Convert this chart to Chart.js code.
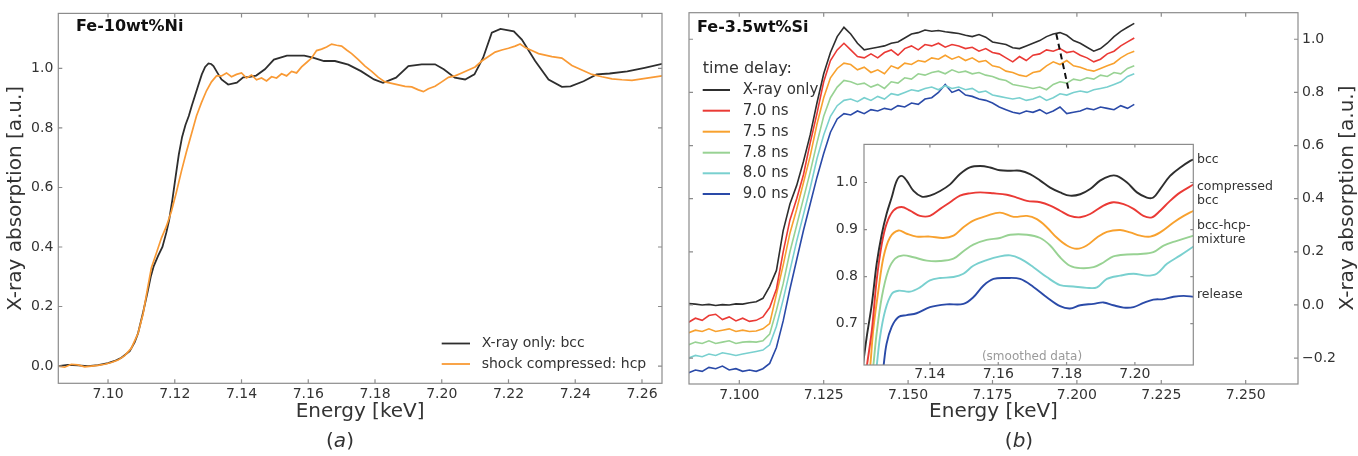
<!DOCTYPE html>
<html><head><meta charset="utf-8">
<script src="https://cdn.jsdelivr.net/npm/chart.js@4.4.1/dist/chart.umd.min.js"></script>
<style>
html,body{margin:0;padding:0;background:#fff;}
#wrap{position:relative;width:1358px;height:456px;overflow:hidden;background:#fff;}
canvas{position:absolute;}
</style></head><body>
<div id="wrap">
<canvas id="ca" width="680" height="456" style="left:0;top:0;width:680px;height:456px"></canvas>
<canvas id="cb" width="678" height="456" style="left:680px;top:0;width:678px;height:456px"></canvas>
<canvas id="ci" width="500" height="260" style="left:800px;top:130px;width:500px;height:260px"></canvas>
</div>
<script>
// ---------- Panel (a): Fe-10wt%Ni ----------
const aXTicks = [7.10,7.12,7.14,7.16,7.18,7.20,7.22,7.24,7.26];
const aYTicks = [0.0,0.2,0.4,0.6,0.8,1.0];
const aBlackE = [7.085,7.088,7.091,7.094,7.097,7.100,7.102,7.104,7.1065,7.108,7.109,7.1105,7.1118,7.1128,7.1137,7.115,7.1163,7.1175,7.1183,7.1193,7.1203,7.1212,7.1222,7.1232,7.1242,7.1251,7.1261,7.1271,7.1281,7.1291,7.1301,7.1309,7.1316,7.1328,7.134,7.136,7.1386,7.1405,7.1425,7.1444,7.147,7.1497,7.1536,7.1588,7.1614,7.1647,7.168,7.172,7.1758,7.1797,7.1824,7.1863,7.190,7.194,7.198,7.2006,7.2039,7.207,7.2098,7.2124,7.215,7.2176,7.2216,7.224,7.228,7.232,7.236,7.2386,7.2425,7.2464,7.2503,7.2556,7.2608,7.2667];
const aBlackA = [0.000,0.004,0.002,0.000,0.003,0.010,0.017,0.028,0.050,0.080,0.110,0.180,0.246,0.300,0.336,0.370,0.400,0.450,0.490,0.560,0.640,0.710,0.770,0.810,0.840,0.875,0.910,0.945,0.980,1.005,1.017,1.015,1.008,0.985,0.963,0.946,0.952,0.970,0.972,0.976,0.997,1.030,1.043,1.043,1.036,1.025,1.025,1.013,0.991,0.963,0.952,0.969,1.008,1.014,1.014,0.997,0.969,0.963,0.980,1.036,1.120,1.133,1.125,1.097,1.025,0.963,0.938,0.940,0.957,0.980,0.983,0.990,1.002,1.017];
const aOrangeE = [7.085,7.087,7.089,7.091,7.093,7.095,7.097,7.099,7.101,7.103,7.105,7.107,7.109,7.1105,7.112,7.113,7.1145,7.116,7.1175,7.119,7.1205,7.122,7.1235,7.125,7.1265,7.128,7.1295,7.131,7.1325,7.134,7.1355,7.137,7.1385,7.140,7.1415,7.143,7.1445,7.146,7.1475,7.149,7.1505,7.152,7.1535,7.155,7.1565,7.158,7.1595,7.161,7.1625,7.164,7.1655,7.167,7.1685,7.170,7.1715,7.173,7.175,7.177,7.179,7.181,7.183,7.185,7.187,7.189,7.191,7.193,7.1945,7.196,7.198,7.200,7.202,7.204,7.206,7.208,7.210,7.212,7.214,7.216,7.218,7.220,7.222,7.2235,7.225,7.227,7.229,7.231,7.233,7.236,7.239,7.242,7.245,7.248,7.251,7.254,7.257,7.260,7.263,7.266];
const aOrangeA = [0.000,-0.004,0.006,0.004,-0.003,0.000,0.002,0.006,0.012,0.020,0.035,0.060,0.110,0.175,0.270,0.330,0.380,0.430,0.470,0.520,0.585,0.655,0.720,0.780,0.840,0.885,0.925,0.955,0.975,0.975,0.985,0.972,0.980,0.985,0.968,0.978,0.962,0.968,0.958,0.972,0.968,0.982,0.975,0.990,0.985,1.005,1.020,1.035,1.060,1.065,1.072,1.082,1.078,1.075,1.062,1.050,1.030,1.008,0.990,0.970,0.955,0.950,0.945,0.940,0.938,0.928,0.922,0.932,0.940,0.955,0.970,0.975,0.985,0.995,1.005,1.025,1.040,1.055,1.062,1.068,1.075,1.082,1.070,1.060,1.050,1.045,1.040,1.035,1.010,0.995,0.980,0.972,0.965,0.962,0.960,0.965,0.970,0.975];

// ---------- Panel (b): Fe-3.5wt%Si ----------
const bXTicks = [7.100,7.125,7.150,7.175,7.200,7.225,7.250];
const bYTicks = [-0.2,0.0,0.2,0.4,0.6,0.8,1.0];
const bLabels = ['X-ray only','7.0 ns','7.5 ns','7.8 ns','8.0 ns','9.0 ns'];
const bE = [7.085,7.087,7.089,7.091,7.093,7.095,7.097,7.099,7.101,7.103,7.105,7.107,7.109,7.111,7.113,7.115,7.117,7.119,7.121,7.123,7.125,7.127,7.129,7.131,7.133,7.135,7.137,7.139,7.141,7.143,7.145,7.147,7.149,7.151,7.153,7.155,7.157,7.159,7.161,7.163,7.165,7.167,7.169,7.171,7.173,7.175,7.177,7.179,7.181,7.183,7.185,7.187,7.189,7.191,7.193,7.195,7.197,7.199,7.201,7.203,7.205,7.207,7.209,7.211,7.213,7.215,7.217];
const bXray = [0.005,0.003,0.000,0.002,-0.002,0.001,0.000,0.004,0.003,0.008,0.012,0.025,0.070,0.130,0.280,0.380,0.450,0.540,0.640,0.760,0.870,0.950,1.010,1.045,1.020,0.985,0.960,0.965,0.970,0.975,0.985,0.990,1.005,1.020,1.025,1.035,1.030,1.033,1.028,1.025,1.022,1.015,1.010,1.018,1.008,0.990,0.985,0.980,0.968,0.965,0.975,0.985,0.995,1.010,1.020,1.025,1.015,0.995,0.985,0.970,0.955,0.965,0.985,1.010,1.030,1.045,1.060];
const b70 = [-0.065,-0.050,-0.058,-0.040,-0.035,-0.055,-0.045,-0.060,-0.050,-0.062,-0.058,-0.045,-0.010,0.060,0.200,0.320,0.400,0.490,0.610,0.720,0.840,0.920,0.960,0.985,0.960,0.935,0.930,0.945,0.930,0.950,0.960,0.940,0.965,0.975,0.960,0.980,0.975,0.985,0.970,0.980,0.975,0.965,0.970,0.955,0.965,0.950,0.945,0.930,0.915,0.935,0.920,0.940,0.945,0.960,0.955,0.965,0.950,0.955,0.940,0.930,0.915,0.925,0.945,0.955,0.975,0.990,1.005];
const b75 = [-0.105,-0.095,-0.100,-0.090,-0.100,-0.095,-0.090,-0.100,-0.095,-0.100,-0.098,-0.090,-0.070,0.040,0.150,0.270,0.360,0.460,0.560,0.680,0.780,0.855,0.890,0.910,0.905,0.885,0.895,0.875,0.885,0.870,0.900,0.890,0.910,0.905,0.920,0.915,0.930,0.925,0.940,0.925,0.935,0.920,0.930,0.915,0.920,0.900,0.895,0.880,0.875,0.865,0.860,0.875,0.880,0.900,0.915,0.905,0.920,0.900,0.895,0.885,0.880,0.890,0.900,0.910,0.930,0.945,0.955];
const b78 = [-0.150,-0.140,-0.145,-0.135,-0.145,-0.140,-0.135,-0.145,-0.140,-0.138,-0.140,-0.135,-0.110,-0.020,0.080,0.200,0.300,0.400,0.500,0.610,0.710,0.780,0.820,0.845,0.840,0.830,0.835,0.820,0.830,0.815,0.840,0.835,0.855,0.850,0.870,0.865,0.875,0.880,0.870,0.885,0.875,0.880,0.870,0.875,0.865,0.860,0.850,0.845,0.830,0.825,0.820,0.815,0.820,0.810,0.830,0.840,0.835,0.850,0.845,0.855,0.850,0.865,0.860,0.875,0.870,0.890,0.900];
const b80 = [-0.200,-0.190,-0.195,-0.185,-0.190,-0.180,-0.185,-0.190,-0.185,-0.180,-0.175,-0.170,-0.150,-0.080,0.020,0.130,0.240,0.340,0.440,0.550,0.640,0.710,0.750,0.770,0.775,0.765,0.780,0.770,0.785,0.775,0.795,0.790,0.800,0.810,0.805,0.815,0.820,0.810,0.825,0.815,0.820,0.810,0.815,0.800,0.805,0.790,0.785,0.780,0.775,0.780,0.770,0.775,0.785,0.770,0.780,0.795,0.790,0.800,0.805,0.800,0.810,0.815,0.820,0.830,0.840,0.860,0.870];
const b90 = [-0.255,-0.245,-0.250,-0.235,-0.240,-0.230,-0.245,-0.240,-0.250,-0.245,-0.250,-0.240,-0.220,-0.160,-0.060,0.060,0.170,0.280,0.380,0.480,0.570,0.650,0.700,0.720,0.715,0.730,0.720,0.735,0.730,0.740,0.735,0.750,0.745,0.760,0.755,0.775,0.780,0.800,0.830,0.800,0.810,0.790,0.785,0.775,0.770,0.760,0.745,0.735,0.725,0.720,0.730,0.725,0.735,0.720,0.730,0.745,0.720,0.725,0.730,0.740,0.735,0.745,0.740,0.735,0.750,0.740,0.755];
const dashE = [7.1939,7.1977];
const dashA = [1.020,0.800];

// ---------- Inset (smoothed data) ----------
const iXTicks = [7.14,7.16,7.18,7.20];
const iYTicks = [0.7,0.8,0.9,1.0];
const iNotes = ['bcc','compressed','bcc','bcc-hcp-','mixture','release'];
const iBlackE = [7.1200,7.1215,7.123,7.1244,7.1259,7.1273,7.1288,7.1303,7.1317,7.1332,7.1352,7.1376,7.14,7.143,7.1459,7.1488,7.1517,7.1547,7.1576,7.1605,7.1635,7.1664,7.1693,7.1723,7.1752,7.1781,7.181,7.184,7.1869,7.1898,7.1928,7.1947,7.1977,7.2006,7.2035,7.2054,7.2074,7.2103,7.2133,7.2162,7.2172];
const iBlackA = [0.590,0.672,0.742,0.827,0.890,0.933,0.968,1.004,1.014,1.004,0.982,0.970,0.972,0.982,0.996,1.018,1.032,1.035,1.032,1.026,1.025,1.025,1.018,1.004,0.989,0.979,0.972,0.975,0.986,1.004,1.014,1.014,1.000,0.979,0.968,0.968,0.986,1.014,1.032,1.046,1.049];
const iRedE = [7.1208,7.1215,7.123,7.1244,7.1259,7.1273,7.1293,7.1317,7.1342,7.1371,7.14,7.143,7.1459,7.1488,7.1517,7.1547,7.1586,7.1625,7.1654,7.1684,7.1723,7.1752,7.1781,7.181,7.184,7.1869,7.1908,7.1937,7.1967,7.1996,7.2025,7.205,7.2074,7.2103,7.2133,7.2172];
const iRedA = [0.570,0.608,0.686,0.792,0.869,0.912,0.940,0.948,0.940,0.929,0.929,0.944,0.958,0.972,0.977,0.979,0.977,0.974,0.968,0.961,0.958,0.951,0.940,0.929,0.926,0.933,0.951,0.958,0.954,0.944,0.929,0.926,0.940,0.961,0.979,0.996];
const iOrangeE = [7.1218,7.1225,7.1234,7.1249,7.1264,7.1283,7.1308,7.1332,7.1361,7.14,7.1439,7.1469,7.1498,7.1527,7.1566,7.1605,7.1645,7.1684,7.1713,7.1742,7.1771,7.1801,7.183,7.1859,7.1889,7.1918,7.1957,7.1986,7.2016,7.2045,7.2074,7.2113,7.2143,7.2172];
const iOrangeA = [0.570,0.608,0.686,0.770,0.841,0.883,0.898,0.891,0.885,0.885,0.882,0.887,0.905,0.919,0.929,0.936,0.927,0.929,0.922,0.905,0.883,0.866,0.859,0.866,0.883,0.895,0.899,0.894,0.887,0.885,0.894,0.915,0.929,0.940];
const iGreenE = [7.1228,7.1234,7.1244,7.1259,7.1278,7.1298,7.1322,7.1352,7.1391,7.143,7.1469,7.1498,7.1527,7.1566,7.1605,7.1635,7.1684,7.1723,7.1752,7.1781,7.181,7.184,7.1879,7.1908,7.1937,7.1977,7.2016,7.2054,7.2084,7.2123,7.2172];
const iGreenA = [0.570,0.608,0.679,0.756,0.813,0.838,0.845,0.841,0.834,0.833,0.838,0.854,0.868,0.878,0.882,0.889,0.889,0.882,0.866,0.841,0.823,0.818,0.820,0.830,0.843,0.847,0.848,0.852,0.866,0.876,0.887];
const iCyanE = [7.1238,7.1244,7.1254,7.1269,7.1288,7.1308,7.1342,7.1371,7.14,7.143,7.1469,7.1498,7.1527,7.1566,7.1605,7.1635,7.1664,7.1703,7.1742,7.1781,7.182,7.1859,7.1889,7.1918,7.1957,7.1996,7.2035,7.2064,7.2094,7.2133,7.2172];
const iCyanA = [0.570,0.608,0.672,0.728,0.763,0.770,0.768,0.777,0.792,0.797,0.799,0.806,0.823,0.835,0.843,0.845,0.838,0.820,0.799,0.782,0.779,0.776,0.777,0.795,0.802,0.806,0.802,0.806,0.827,0.845,0.864];
const iBlueE = [7.1258,7.1264,7.1273,7.1288,7.1308,7.1332,7.1361,7.14,7.1449,7.1498,7.1527,7.1557,7.1586,7.1625,7.1664,7.1703,7.1742,7.1781,7.181,7.184,7.1879,7.1908,7.1937,7.1967,7.1996,7.2025,7.2054,7.2084,7.2113,7.2143,7.2172];
const iBlueA = [0.570,0.608,0.657,0.693,0.714,0.718,0.722,0.735,0.741,0.742,0.756,0.781,0.795,0.797,0.795,0.778,0.756,0.737,0.732,0.739,0.742,0.745,0.739,0.734,0.735,0.744,0.751,0.752,0.757,0.759,0.757];

// ---------- styling ----------
const C = {black:'#2e2e2e', red:'#ea3a35', orange:'#f8a12e', green:'#98d293', cyan:'#79d0cf', blue:'#2a4aa8', aOrange:'#f99a35', frame:'#8c8c8c', text:'#333333'};
const FONT = "'DejaVu Sans', sans-serif";
Chart.defaults.font.family = FONT;
Chart.defaults.color = C.text;

const pts = (xs, ys) => xs.map((x, i) => ({x: x, y: ys[i]}));
const setTicks = arr => scale => { scale.ticks = arr.map(v => ({value: v})); };
const fmt = d => v => (v < 0 ? '\u2212' : '') + Math.abs(v).toFixed(d);
const noGrid = {display: false, drawTicks: false, tickLength: 0};

function frameAndTicks(chart, ctx, xt, yt, L) {
  const a = chart.chartArea, xs = chart.scales.x, ys = chart.scales.y;
  ctx.save();
  ctx.strokeStyle = C.frame; ctx.lineWidth = 1.2;
  ctx.strokeRect(a.left, a.top, a.right - a.left, a.bottom - a.top);
  ctx.beginPath();
  xt.forEach(v => { const p = xs.getPixelForValue(v);
    ctx.moveTo(p, a.bottom); ctx.lineTo(p, a.bottom - L);
    ctx.moveTo(p, a.top); ctx.lineTo(p, a.top + L); });
  yt.forEach(v => { const p = ys.getPixelForValue(v);
    ctx.moveTo(a.left, p); ctx.lineTo(a.left + L, p);
    ctx.moveTo(a.right, p); ctx.lineTo(a.right - L, p); });
  ctx.stroke();
  ctx.restore();
}
function panelLetter(ctx, cx, cy, letter) {
  ctx.save();
  ctx.textBaseline = 'middle'; ctx.fillStyle = C.text;
  const n = '20px ' + FONT, it = 'italic 20px ' + FONT;
  ctx.font = n; const wp = ctx.measureText('(').width;
  ctx.font = it; const wl = ctx.measureText(letter).width;
  let x = cx - (2 * wp + wl) / 2;
  ctx.font = n; ctx.textAlign = 'left'; ctx.fillText('(', x, cy); x += wp;
  ctx.font = it; ctx.fillText(letter, x, cy); x += wl;
  ctx.font = n; ctx.fillText(')', x, cy);
  ctx.restore();
}
function legendRow(ctx, x1, x2, tx, y, color, label, font, w) {
  ctx.strokeStyle = color; ctx.lineWidth = w;
  ctx.beginPath(); ctx.moveTo(x1, y); ctx.lineTo(x2, y); ctx.stroke();
  ctx.font = font; ctx.fillStyle = C.text; ctx.textAlign = 'left'; ctx.textBaseline = 'middle';
  ctx.fillText(label, tx, y);
}

const common = {
  responsive: false, animation: false, parsing: true,
  elements: {point: {radius: 0}, line: {tension: 0, fill: false}},
  plugins: {legend: {display: false}, tooltip: {enabled: false}}
};

// ---------- chart (a) ----------
new Chart(document.getElementById('ca'), {
  type: 'line',
  data: {datasets: [
    {data: pts(aOrangeE, aOrangeA), borderColor: C.aOrange, borderWidth: 1.7},
    {data: pts(aBlackE, aBlackA), borderColor: C.black, borderWidth: 1.8}
  ]},
  options: Object.assign({}, common, {
    layout: {padding: {left: 0, right: 18, top: 13.3, bottom: 32.7}},
    scales: {
      x: {type: 'linear', min: 7.0851, max: 7.266, afterBuildTicks: setTicks(aXTicks),
          afterFit: s => { s.height = 40; },
          grid: noGrid, border: {display: false},
          ticks: {padding: 3, font: {size: 14}, color: C.text, callback: fmt(2), maxRotation: 0},
          title: {display: true, text: 'Energy [keV]', font: {size: 20}, color: C.text, padding: {top: 0, bottom: 0}}},
      y: {type: 'linear', min: -0.058, max: 1.185, afterBuildTicks: setTicks(aYTicks),
          afterFit: s => { s.width = 58.3; },
          grid: noGrid, border: {display: false},
          ticks: {padding: 5, font: {size: 14}, color: C.text, callback: fmt(1)},
          title: {display: true, text: 'X-ray absorption [a.u.]', font: {size: 20}, color: C.text, padding: {top: 4, bottom: 4}}}
    }
  }),
  plugins: [{id: 'decoA', afterDraw(chart) {
    const ctx = chart.ctx;
    frameAndTicks(chart, ctx, aXTicks, aYTicks, 4);
    ctx.save();
    ctx.font = 'bold 16px ' + FONT; ctx.fillStyle = '#111'; ctx.textAlign = 'left'; ctx.textBaseline = 'middle';
    ctx.fillText('Fe-10wt%Ni', 76, 27);
    legendRow(ctx, 441.7, 470, 481.7, 343.5, C.black, 'X-ray only: bcc', '14px ' + FONT, 1.8);
    legendRow(ctx, 441.7, 470, 481.7, 364, C.aOrange, 'shock compressed: hcp', '14px ' + FONT, 1.8);
    ctx.restore();
    panelLetter(ctx, 340, 442, 'a');
  }}]
});

// ---------- chart (b) ----------
const bSeries = [bXray, b70, b75, b78, b80, b90];
const bColors = [C.black, C.red, C.orange, C.green, C.cyan, C.blue];
const bSets = bSeries.map((s, i) => ({data: pts(bE, s), borderColor: bColors[i], borderWidth: 1.6}));
bSets.unshift({data: pts(dashE, dashA), borderColor: '#111', borderWidth: 2, borderDash: [6, 4]});
new Chart(document.getElementById('cb'), {
  type: 'line',
  data: {datasets: bSets},
  options: Object.assign({}, common, {
    layout: {padding: {left: 9, right: 0, top: 12.7, bottom: 32}},
    scales: {
      x: {type: 'linear', min: 7.0851, max: 7.2655, afterBuildTicks: setTicks(bXTicks),
          afterFit: s => { s.height = 40; },
          grid: noGrid, border: {display: false},
          ticks: {padding: 3, font: {size: 14}, color: C.text, callback: fmt(3), maxRotation: 0},
          title: {display: true, text: 'Energy [keV]', font: {size: 20}, color: C.text, padding: {top: 0, bottom: 0}}},
      y: {type: 'linear', position: 'right', min: -0.2976, max: 1.100, afterBuildTicks: setTicks(bYTicks),
          afterFit: s => { s.width = 60; },
          grid: noGrid, border: {display: false},
          ticks: {padding: 4, font: {size: 14}, color: C.text, callback: fmt(1)}}
    }
  }),
  plugins: [{id: 'decoB', afterDraw(chart) {
    const ctx = chart.ctx;
    frameAndTicks(chart, ctx, bXTicks, bYTicks, 4);
    ctx.save();
    ctx.font = 'bold 16px ' + FONT; ctx.fillStyle = '#111'; ctx.textAlign = 'left'; ctx.textBaseline = 'middle';
    ctx.fillText('Fe-3.5wt%Si', 17, 28);
    ctx.font = '16px ' + FONT; ctx.fillStyle = C.text;
    ctx.fillText('time delay:', 22.7, 68.5);
    const rows = [90, 110.7, 131.7, 152.7, 173.3, 194];
    bLabels.forEach((lab, i) => legendRow(ctx, 22.7, 50, 62.7, rows[i], bColors[i], lab, '15px ' + FONT, 2));
    ctx.translate(668, 198); ctx.rotate(-Math.PI / 2);
    ctx.font = '20px ' + FONT; ctx.fillStyle = C.text; ctx.textAlign = 'center'; ctx.textBaseline = 'middle';
    ctx.fillText('X-ray absorption [a.u.]', 0, 0);
    ctx.restore();
    panelLetter(ctx, 1019 - 680, 442, 'b');
  }}]
});

// ---------- inset ----------
const iSets = [
  {data: pts(iBlackE, iBlackA), borderColor: C.black},
  {data: pts(iRedE, iRedA), borderColor: C.red},
  {data: pts(iOrangeE, iOrangeA), borderColor: C.orange},
  {data: pts(iGreenE, iGreenA), borderColor: C.green},
  {data: pts(iCyanE, iCyanA), borderColor: C.cyan},
  {data: pts(iBlueE, iBlueA), borderColor: C.blue}
].map(d => Object.assign(d, {borderWidth: 1.9, tension: 0.35}));
new Chart(document.getElementById('ci'), {
  type: 'line',
  data: {datasets: iSets},
  options: Object.assign({}, common, {
    layout: {padding: {left: 0, right: 106.7, top: 13.3, bottom: 0}},
    scales: {
      x: {type: 'linear', min: 7.1207, max: 7.2171, afterBuildTicks: setTicks(iXTicks),
          afterFit: s => { s.height = 25; },
          grid: noGrid, border: {display: false},
          ticks: {padding: 1, font: {size: 14}, color: C.text, callback: fmt(2), maxRotation: 0}},
      y: {type: 'linear', min: 0.612, max: 1.081, afterBuildTicks: setTicks(iYTicks),
          afterFit: s => { s.width = 64; },
          grid: noGrid, border: {display: false},
          ticks: {padding: 6, font: {size: 14}, color: C.text, callback: fmt(1)}}
    }
  }),
  plugins: [{id: 'decoI',
    beforeDraw(chart) {
      const a = chart.chartArea, ctx = chart.ctx;
      ctx.save(); ctx.fillStyle = '#fff';
      ctx.fillRect(a.left, a.top, a.right - a.left, a.bottom - a.top);
      ctx.restore();
    },
    afterDraw(chart) {
      const ctx = chart.ctx;
      frameAndTicks(chart, ctx, iXTicks, iYTicks, 3);
      ctx.save();
      ctx.font = '12px ' + FONT; ctx.fillStyle = '#9a9a9a'; ctx.textAlign = 'center'; ctx.textBaseline = 'middle';
      ctx.fillText('(smoothed data)', 232, 226.5);
      ctx.font = '12.5px ' + FONT; ctx.fillStyle = C.text; ctx.textAlign = 'left';
      const ny = [29.3, 56.7, 71, 96, 110, 165];
      iNotes.forEach((t, i) => ctx.fillText(t, 397, ny[i]));
      ctx.restore();
    }}]
});
</script>
</body></html>
